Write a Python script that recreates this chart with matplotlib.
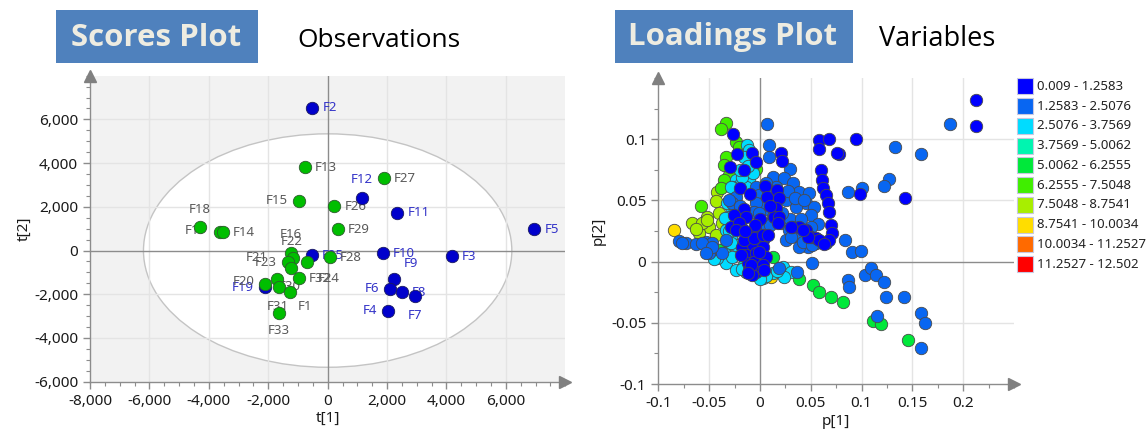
import matplotlib
matplotlib.use("Agg")
import matplotlib.pyplot as plt
from matplotlib.patches import Ellipse, Rectangle
from matplotlib.ticker import MultipleLocator, FuncFormatter

plt.rcParams['font.family'] = ['Noto Sans', 'DejaVu Sans']
plt.rcParams['axes.unicode_minus'] = False

# ---------------- Scores data ----------------
blue_names = ["F2", "F12", "F11", "F5", "F10", "F3", "F25", "F9", "F6", "F8", "F7", "F4", "F19"]
blue_t1 = [-518, 1145, 2344, 6957, 1852, 4175, -539, 2243, 2108, 2502, 2953, 2020, -2111]
blue_t2 = [6535, 2389, 1731, 970, -128, -252, -220, -1320, -1747, -1900, -2083, -2755, -1684]

green_names = ["F13", "F27", "F15", "F26", "F29", "F28", "F17", "F18", "F14", "F16", "F22",
               "F21", "F23", "F24", "F32", "F31", "F30", "F1", "F20", "F33"]
green_t1 = [-764, 1896, -966, 223, 337, 77, -4299, -3626, -3515, -1246, -1158,
            -1326, -1246, -707, -966, -1697, -1630, -1269, -2101, -1640]
green_t2 = [3808, 3318, 2280, 2037, 970, -300, 1061, 861, 833, -100, -357,
            -512, -787, -512, -1272, -1304, -1657, -1886, -1533, -2847]

# label placement (pixel offsets, alignment) - style only
label_style = {
    "F12": (0, -19, 'center'), "F15": (-11, 0, 'right'), "F9": (9, -16, 'left'),
    "F6": (-11, 0, 'right'), "F7": (0, 19, 'center'), "F4": (-11, 0, 'right'),
    "F19": (-11, 0, 'right'), "F20": (-11, -3, 'right'), "F17": (-4, 3, 'center'),
    "F18": (-20, -22, 'center'), "F16": (0, -18, 'center'), "F22": (-2, -17, 'center'),
    "F21": (-21, -4, 'right'), "F23": (-14, -5, 'right'), "F24": (11, 17, 'left'),
    "F31": (1, 27, 'center'), "F30": (11, 0, 'center'), "F1": (8, 15, 'left'),
    "F33": (0, 18, 'center'),
}

# ---------------- Loadings data ----------------
legend_labels = ["0.009 - 1.2583", "1.2583 - 2.5076", "2.5076 - 3.7569", "3.7569 - 5.0062",
                 "5.0062 - 6.2555", "6.2555 - 7.5048", "7.5048 - 8.7541", "8.7541 - 10.0034",
                 "10.0034 - 11.2527", "11.2527 - 12.502"]
legend_colors = ["#0000FF", "#0866F2", "#00DCFF", "#00F5B0", "#00E83A", "#40EE00",
                 "#A8EE00", "#FFDD00", "#FF6A00", "#FF0000"]

c0_p1 = [0.213, 0.213, 0.095, 0.078, 0.0986, 0.1424,
         0.0585, 0.0677, 0.0578, 0.0756, 0.060, 0.061, 0.0625, 0.065, 0.0667, 0.0677, 0.070, 0.071, 0.068,
         0.032, 0.0388, 0.0454, 0.0503, 0.0553, 0.0585, 0.0306, 0.047, 0.0635, 0.042,
         0.0207, 0.0217,
         -0.0264, -0.0222, -0.0074, -0.0034, -0.0296, -0.0155,
         0.0053, 0.0073, 0.0171, 0.0191, 0.0158, 0.0141, -0.0237, -0.0155, -0.0138, -0.0286, -0.0188,
         -0.0122, -0.004, 0.0026, -0.0105, -0.0007, -0.0254, -0.0204, -0.0237, 0.019, 0.0174,
         -0.0172, -0.0073, 0.0026, -0.0138, -0.0039, 0.0059, -0.0122, -0.0056, 0.0026, -0.0106,
         -0.0039, -0.0079, -0.0155, -0.0056, 0.0026, -0.0188, -0.0007, -0.0089,
         -0.020, -0.010, 0.000, 0.010, -0.005, 0.008, -0.015, -0.012, 0.004]
c0_p2 = [0.132, 0.111, 0.100, 0.088, 0.055, 0.052,
         0.0993, 0.0998, 0.0917, 0.089, 0.0748, 0.0666, 0.0598, 0.0543, 0.0475, 0.0407, 0.0298, 0.023, 0.0176,
         0.0284, 0.0284, 0.0257, 0.0203, 0.019, 0.0176, 0.0283, 0.0202, 0.0147, 0.0257,
         0.089, 0.082,
         0.104, 0.0882, 0.0888, 0.0812, 0.0776, 0.0748,
         0.0618, 0.0531, 0.0585, 0.0518, 0.0436, 0.0365, 0.0365, 0.0433, 0.0365, 0.0283, 0.0283,
         0.0204, 0.0245, 0.0177, 0.0109, 0.0094, 0.038, 0.0312, 0.0257, 0.0366, 0.0312,
         0.0121, 0.0135, 0.0121, 0.0053, 0.0067, 0.0039, -0.0015, 0.0, -0.0029, -0.0069,
         -0.0083, -0.011, 0.0175, 0.019, 0.0218, 0.0055, 0.0075, -0.003,
         0.060, 0.055, 0.035, 0.045, 0.030, 0.022, 0.025, -0.009, -0.007]

c1_p1 = [0.187, 0.1325, 0.158, 0.1266, 0.122, 0.087, 0.1006, 0.0842, 0.0904, 0.0997,
         0.0513, 0.0865, 0.088, 0.1036, 0.1095, 0.1145, 0.122, 0.1243, 0.1414, 0.115, 0.1588, 0.162, 0.158,
         0.036, 0.019,
         0.0066, 0.0092, 0.0092, 0.0296,
         0.0125, 0.024, 0.0322, 0.0388, 0.0487, 0.0454, 0.0536, 0.0355, 0.0257, 0.0158, 0.0059,
         -0.0007, -0.0039, 0.0026, 0.0125, 0.0207, 0.0289, 0.0388, 0.047, 0.0388, 0.0257,
         0.0306, 0.042, 0.0553, 0.065, 0.0513,
         -0.0797, -0.073, -0.0632, -0.0533, -0.0468, -0.0764, -0.0566, -0.0468, -0.0369, -0.050,
         -0.0237, -0.027, -0.0336, -0.0468, -0.0533,
         -0.0039, -0.0007, 0.0026, -0.0039, -0.0056, -0.0007, 0.0026,
         0.008, 0.018, 0.028, 0.035, 0.043, 0.050, 0.030, 0.022, 0.010, 0.040, 0.057, 0.050,
         -0.030, -0.020]
c1_p2 = [0.112, 0.0933, 0.0878, 0.0674, 0.062, 0.0568, 0.0603, 0.0176, 0.008, 0.0088,
         -0.0015, -0.0151, -0.021, -0.011, -0.0056, -0.011, -0.0165, -0.0288, -0.0288, -0.0445, -0.0418, -0.050, -0.071,
         -0.0083, -0.0056,
         0.1123, 0.095, 0.0855, 0.0753,
         0.0693, 0.068, 0.0639, 0.057, 0.0557, 0.0475, 0.0448, 0.0448, 0.0502, 0.0611, 0.0639,
         0.0584, 0.0502, 0.0421, 0.0366, 0.0312, 0.0257, 0.0203, 0.0121, 0.0121, 0.0176,
         0.0203, 0.0162, 0.0149, 0.0149, 0.0135,
         0.0168, 0.0154, 0.0143, 0.0162, 0.0149, 0.0149, 0.0149, 0.0094, 0.0067, 0.0067,
         0.053, 0.0475, 0.0176, 0.0121, 0.0067,
         0.0611, 0.0543, 0.0475, 0.0475, 0.0407, 0.0394, 0.0312,
         0.058, 0.055, 0.058, 0.052, 0.050, 0.038, 0.035, 0.040, 0.030, 0.035, 0.031, 0.028,
         0.050, 0.045]

c2_p1 = [-0.0132, -0.0106, -0.0155, -0.0237, -0.0188, -0.0106, -0.0138, -0.027, -0.0172, -0.0073,
         -0.0286, -0.0254, -0.0204, -0.0303, -0.0286, -0.032, -0.0343, -0.0336, -0.0286, -0.0237, -0.0352,
         -0.0336, -0.0237, -0.0138, -0.0039, 0.0026, 0.0125, 0.0223, 0.0306, 0.024, -0.027, -0.0418, 0.0059,
         -0.020, -0.012, -0.030, -0.028, -0.045, -0.018, 0.000, 0.017]
c2_p2 = [0.0952, 0.0911, 0.0856, 0.0666, 0.0639, 0.0666, 0.0611, 0.0611, 0.0693, 0.072,
         0.0448, 0.0394, 0.0339, 0.0366, 0.0611, 0.0475, 0.0353, 0.0257, 0.0203, 0.0135, 0.0067,
         -0.0015, -0.0069, -0.0083, -0.0096, -0.0137, -0.0096, -0.0042, -0.0083, -0.0124, 0.0039, 0.0026, -0.012,
         0.075, 0.078, 0.025, 0.015, 0.002, -0.006, -0.014, -0.008]

c3_p1 = [-0.0303, -0.0155]
c3_p2 = [0.030, -0.003]

c4_p1 = [0.052, 0.0585, 0.070, 0.0822, 0.111, 0.119, 0.1457, 0.038, 0.0125, -0.0336, -0.040]
c4_p2 = [-0.0192, -0.0247, -0.0288, -0.0328, -0.0484, -0.0513, -0.0641, -0.0143, 0.0039, 0.0125, 0.0095]

c5_p1 = [-0.0336, -0.0385, -0.0237, -0.0204, -0.0336, -0.0352, -0.0303, -0.0352, -0.004, -0.0582, -0.038]
c5_p2 = [0.113, 0.108, 0.0979, 0.0938, 0.0856, 0.0788, 0.0707, 0.0666, 0.076, 0.0456, 0.060]

c6_p1 = [-0.0425, -0.0434, -0.0665, -0.0517, -0.05, -0.0402, -0.0369, -0.0599, -0.0434, -0.0567, -0.0517, -0.063]
c6_p2 = [0.057, 0.0497, 0.0312, 0.0366, 0.0284, 0.0394, 0.0312, 0.023, 0.0216, 0.0312, 0.0339, 0.027]

c7_p1 = [-0.0846, 0.011]
c7_p2 = [0.0257, -0.0124]

# ---------------- Figure ----------------
W, H = 1147, 433
fig = plt.figure(figsize=(W / 100, H / 100), dpi=100)
GRID = '#E4E4E4'
AX = '#8C8C8C'
PX2PT = 0.72


def fx(px):
    return px / W


def fy(py):
    return 1 - py / H


def style_axes(ax):
    for s in ['top', 'right']:
        ax.spines[s].set_visible(False)
    for s in ['left', 'bottom']:
        ax.spines[s].set_color(AX)
        ax.spines[s].set_linewidth(1)
    ax.tick_params(which='major', direction='out', length=5, color=AX, labelsize=11,
                   labelcolor='#1a1a1a', width=1)
    ax.tick_params(which='minor', direction='out', length=3, color=AX, width=0.8)
    ax.plot([0], [1.0], marker='^', ms=8, color='#808080', transform=ax.transAxes,
            clip_on=False, zorder=10)
    ax.plot([1.0], [0], marker='>', ms=8, color='#808080', transform=ax.transAxes,
            clip_on=False, zorder=10)


# ---- Scores axes ----
ax1 = fig.add_axes([fx(90), fy(381.7), fx(565.3) - fx(90), fy(75.7) - fy(381.7)])
ax1.set_facecolor('#F2F2F2')
ax1.set_xlim(-8000, 8000)
ax1.set_ylim(-6000, 8000)
ax1.add_patch(Ellipse((0, 0), 12400, 10680, facecolor='white', edgecolor='#C4C4C4',
                      lw=1, zorder=0.5))
for v in [-6000, -4000, -2000, 2000, 4000, 6000]:
    ax1.axvline(v, color=GRID, lw=1, zorder=1)
for v in [-4000, -2000, 2000, 4000, 6000]:
    ax1.axhline(v, color=GRID, lw=1, zorder=1)
ax1.axvline(0, color=AX, lw=1, zorder=1.5)
ax1.axhline(0, color=AX, lw=1, zorder=1.5)
ax1.xaxis.set_major_locator(MultipleLocator(2000))
ax1.yaxis.set_major_locator(MultipleLocator(2000))
ax1.xaxis.set_minor_locator(MultipleLocator(500))
ax1.yaxis.set_minor_locator(MultipleLocator(500))
fmt = FuncFormatter(lambda v, p: f"{int(round(v)):,}")
ax1.xaxis.set_major_formatter(fmt)
ax1.yaxis.set_major_formatter(fmt)
ax1.set_xticks([-8000, -6000, -4000, -2000, 0, 2000, 4000, 6000])
ax1.set_yticks([-6000, -4000, -2000, 0, 2000, 4000, 6000])
style_axes(ax1)
ax1.set_xlabel('t[1]', fontsize=11, color='#1a1a1a', labelpad=2)
ax1.set_ylabel('t[2]', fontsize=11, color='#1a1a1a', labelpad=2)

ax1.scatter(blue_t1, blue_t2, s=80, c='#0000CC', edgecolors='#1a1a60', linewidths=0.6, zorder=4)
ax1.scatter(green_t1, green_t2, s=80, c='#00BE00', edgecolors='#2d5a2d', linewidths=0.6, zorder=5)


def put_labels(names, xs, ys, color):
    for n, x, y in zip(names, xs, ys):
        dx, dy, ha = label_style.get(n, (10, 0, 'left'))
        ax1.annotate(n, (x, y), xytext=(dx * PX2PT, -dy * PX2PT), textcoords='offset points',
                     ha=ha, va='center', fontsize=9.5, color=color, zorder=3)


put_labels(blue_names, blue_t1, blue_t2, '#3434C8')
put_labels(green_names, green_t1, green_t2, '#5a5a5a')

# ---- Loadings axes ----
ax2 = fig.add_axes([fx(658.3), fy(384), fx(1014) - fx(658.3), fy(77.9) - fy(384)])
ax2.set_xlim(-0.1, 0.25)
ax2.set_ylim(-0.1, 0.15)
for v in [-0.05, 0.05, 0.1, 0.15, 0.2]:
    ax2.axvline(v, color=GRID, lw=1, zorder=1)
for v in [-0.05, 0.05, 0.1]:
    ax2.axhline(v, color=GRID, lw=1, zorder=1)
ax2.axvline(0, color=AX, lw=1, zorder=1.5)
ax2.axhline(0, color=AX, lw=1, zorder=1.5)
ax2.set_xticks([-0.1, -0.05, 0, 0.05, 0.1, 0.15, 0.2])
ax2.set_xticklabels(['-0.1', '-0.05', '0', '0.05', '0.1', '0.15', '0.2'])
ax2.set_yticks([-0.1, -0.05, 0, 0.05, 0.1])
ax2.set_yticklabels(['-0.1', '-0.05', '0', '0.05', '0.1'])
ax2.xaxis.set_minor_locator(MultipleLocator(0.025))
ax2.yaxis.set_minor_locator(MultipleLocator(0.025))
style_axes(ax2)
ax2.set_xlabel('p[1]', fontsize=11, color='#1a1a1a', labelpad=2)
ax2.set_ylabel('p[2]', fontsize=11, color='#1a1a1a', labelpad=4)

groups = [(c7_p1, c7_p2, 7), (c6_p1, c6_p2, 6), (c5_p1, c5_p2, 5), (c4_p1, c4_p2, 4),
          (c3_p1, c3_p2, 3), (c2_p1, c2_p2, 2), (c1_p1, c1_p2, 1), (c0_p1, c0_p2, 0)]
for xs, ys, k in groups:
    ax2.scatter(xs, ys, s=80, c=legend_colors[k], edgecolors='#4a4a4a', linewidths=0.6,
                zorder=4 + (7 - k) * 0.1)

# ---- Legend ----
for i, (lab, col) in enumerate(zip(legend_labels, legend_colors)):
    top = 78.3 + i * 19.75
    fig.add_artist(Rectangle((fx(1016.7), fy(top + 16)), 16 / W, 16 / H, facecolor=col,
                             edgecolor='#C8C8E0', lw=0.8, transform=fig.transFigure))
    fig.text(fx(1037), fy(top + 8), lab, fontsize=9.5, color='#222222', ha='left', va='center')

# ---- Headers ----
HB = '#4F81BD'
HT = '#EEECE1'
fig.add_artist(Rectangle((fx(55.5), fy(63.3)), 202.5 / W, 53.3 / H, facecolor=HB,
                         edgecolor='none', transform=fig.transFigure))
fig.text(fx(156.5), fy(37.5), 'Scores Plot', fontsize=22.5, fontweight='bold', family='Open Sans',
         color=HT, ha='center', va='center')
fig.text(fx(297), fy(40.5), 'Observations', fontsize=19, family='Open Sans', color='black',
         ha='left', va='center')
fig.add_artist(Rectangle((fx(615), fy(63.3)), 237.7 / W, 53.3 / H, facecolor=HB,
                         edgecolor='none', transform=fig.transFigure))
fig.text(fx(733), fy(37.5), 'Loadings Plot', fontsize=22.5, fontweight='bold', family='Open Sans',
         color=HT, ha='center', va='center')
fig.text(fx(879), fy(39.5), 'Variables', fontsize=19.5, family='Open Sans', color='black',
         ha='left', va='center')

fig.savefig('out.png', dpi=100)
